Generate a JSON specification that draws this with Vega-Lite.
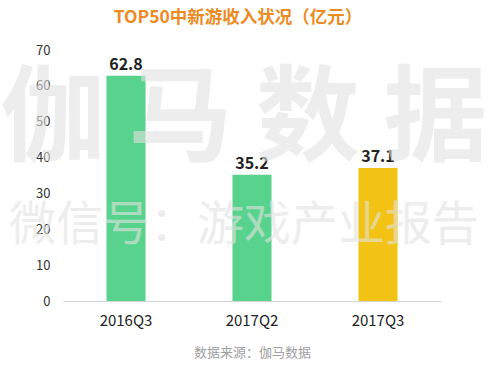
{
  "$schema": "https://vega.github.io/schema/vega-lite/v6.json",
  "autosize": {"type": "none"},
  "width": 378,
  "height": 251,
  "padding": {"left": 63, "top": 50, "right": 55, "bottom": 64},
  "background": "#ffffff",
  "title": {
    "text": "TOP50中新游收入状况（亿元）",
    "font": "Noto Sans CJK SC",
    "fontSize": 17.5,
    "fontWeight": "bold",
    "color": "#EE8A22",
    "anchor": "middle",
    "dx": -14,
    "offset": 18
  },
  "config": {
    "view": {"stroke": null},
    "font": "Noto Sans CJK SC",
    "axisY": {
      "titleOpacity": 0,
      "domain": false,
      "ticks": false,
      "grid": false,
      "labelFont": "Noto Sans CJK SC",
      "labelFontSize": 13,
      "labelColor": "#333333",
      "labelPadding": 13
    }
  },
  "data": {
    "values": [
      {"quarter": "2016Q3", "value": 62.8, "group": "past"},
      {"quarter": "2017Q2", "value": 35.2, "group": "past"},
      {"quarter": "2017Q3", "value": 37.1, "group": "current"}
    ]
  },
  "layer": [
    {
      "mark": {"type": "bar"},
      "encoding": {
        "x": {
          "field": "quarter",
          "type": "nominal",
          "sort": null,
          "scale": {"paddingInner": 0.69, "paddingOuter": 0.345},
          "axis": {
            "title": "数据来源：伽马数据",
            "titleFont": "Noto Sans CJK SC",
            "titleFontSize": 13,
            "titleFontWeight": "normal",
            "titleColor": "#a0a0a0",
            "titlePadding": 18,
            "labelAngle": 0,
            "labelFont": "Noto Sans CJK SC",
            "labelFontSize": 15,
            "labelColor": "#222222",
            "labelPadding": 12,
            "ticks": false,
            "domainColor": "#d4d4d4",
            "domainWidth": 1
          }
        },
        "y": {
          "field": "value",
          "type": "quantitative",
          "scale": {"domain": [0, 70], "nice": false}
        },
        "color": {
          "field": "group",
          "type": "nominal",
          "scale": {"domain": ["past", "current"], "range": ["#58D38D", "#F2C314"]},
          "legend": null
        }
      }
    },
    {
      "mark": {"type": "text", "baseline": "bottom", "dy": -3, "fontSize": 16, "fontWeight": "bold", "color": "#222222", "font": "Noto Sans CJK SC"},
      "encoding": {
        "x": {"field": "quarter", "type": "nominal", "sort": null},
        "y": {"field": "value", "type": "quantitative"},
        "text": {"field": "value", "type": "quantitative", "format": ".1f"}
      }
    },
    {
      "data": {"values": [{"t": "伽 马 数 据"}]},
      "mark": {"type": "text", "baseline": "middle", "align": "center", "dx": -8, "fontSize": 104, "fontWeight": "bold", "color": "#e2e2e2", "opacity": 0.6, "font": "Noto Sans CJK SC"},
      "encoding": {
        "y": {"datum": 50, "type": "quantitative"},
        "text": {"field": "t", "type": "nominal"}
      }
    },
    {
      "data": {"values": [{"t": "微信号：游戏产业报告"}]},
      "mark": {"type": "text", "baseline": "middle", "align": "center", "dx": -8, "fontSize": 47, "fontWeight": "normal", "color": "#e2e2e2", "opacity": 0.6, "font": "Noto Sans CJK SC"},
      "encoding": {
        "y": {"datum": 21, "type": "quantitative"},
        "text": {"field": "t", "type": "nominal"}
      }
    }
  ]
}
